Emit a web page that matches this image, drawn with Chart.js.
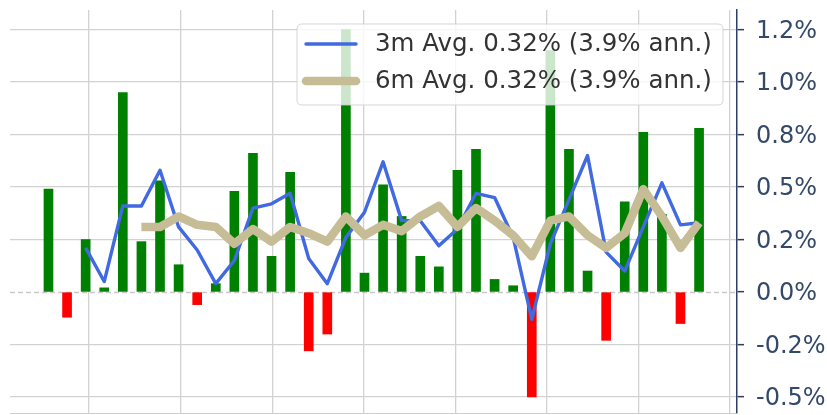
<!DOCTYPE html>
<html>
<head>
<meta charset="utf-8">
<script src="https://cdn.jsdelivr.net/npm/chart.js@4.4.1/dist/chart.umd.min.js"></script>
<style>
  html, body { margin: 0; padding: 0; background: #fff; }
  #wrap { width: 827px; height: 415px; }
</style>
</head>
<body>
<div id="wrap"><canvas id="returns-chart" width="827" height="415"></canvas></div>
<script>
// monthly returns in %, one bar per month
const monthlyReturns = [
  0.49, -0.12, 0.25, 0.02, 0.95, 0.24, 0.53, 0.13, -0.06, 0.04, 0.48, 0.66,
  0.17, 0.57, -0.28, -0.20, 1.25, 0.09, 0.51, 0.36, 0.17, 0.12, 0.58, 0.68,
  0.06, 0.03, -0.50, 1.15, 0.68, 0.10, -0.23, 0.43, 0.76, 0.37, -0.15, 0.78
];
const avg3m = [
  null, null, 0.21, 0.05, 0.41, 0.41, 0.58, 0.31, 0.20, 0.04, 0.15, 0.40,
  0.42, 0.47, 0.16, 0.04, 0.26, 0.38, 0.62, 0.34, 0.34, 0.22, 0.30, 0.47,
  0.45, 0.26, -0.13, 0.23, 0.44, 0.65, 0.19, 0.10, 0.31, 0.52, 0.32, 0.33
];
const avg6m = [
  null, null, null, null, null, 0.31, 0.31, 0.36, 0.32, 0.31, 0.23, 0.30,
  0.24, 0.31, 0.28, 0.24, 0.36, 0.27, 0.32, 0.29, 0.36, 0.41, 0.31, 0.40,
  0.34, 0.27, 0.17, 0.34, 0.36, 0.27, 0.21, 0.28, 0.49, 0.36, 0.21, 0.33
];
const seriesLabels = ["3m Avg. 0.32% (3.9% ann.)", "6m Avg. 0.32% (3.9% ann.)"];
const yTickValues = [-0.5, -0.25, 0, 0.25, 0.5, 0.75, 1.0, 1.25];
const yTickLabels = ["-0.5%", "-0.2%", "0.0%", "0.2%", "0.5%", "0.8%", "1.0%", "1.2%"];

const toPoints = arr => arr.map((v, i) => ({ x: i, y: v }));

// dashed zero line behind the bars
const zeroLine = {
  id: "zeroLine",
  beforeDatasetsDraw(chart) {
    const { ctx, chartArea, scales } = chart;
    const y = Math.round(scales.y.getPixelForValue(0)) + 0.5;
    ctx.save();
    ctx.strokeStyle = "#c8c8c8";
    ctx.lineWidth = 1.3;
    ctx.setLineDash([5, 3]);
    ctx.beginPath();
    ctx.moveTo(chartArea.left, y);
    ctx.lineTo(chartArea.right, y);
    ctx.stroke();
    ctx.restore();
  }
};

// matplotlib-like legend box in the upper right of the plot
const legendBox = {
  id: "legendBox",
  afterDatasetsDraw(chart) {
    const ctx = chart.ctx;
    const lines = chart.data.datasets.filter(d => d.type === "line");
    const x0 = 297, y0 = 24, w = 426, h = 81, r = 5;
    ctx.save();
    ctx.beginPath();
    ctx.moveTo(x0 + r, y0);
    ctx.lineTo(x0 + w - r, y0);
    ctx.quadraticCurveTo(x0 + w, y0, x0 + w, y0 + r);
    ctx.lineTo(x0 + w, y0 + h - r);
    ctx.quadraticCurveTo(x0 + w, y0 + h, x0 + w - r, y0 + h);
    ctx.lineTo(x0 + r, y0 + h);
    ctx.quadraticCurveTo(x0, y0 + h, x0, y0 + h - r);
    ctx.lineTo(x0, y0 + r);
    ctx.quadraticCurveTo(x0, y0, x0 + r, y0);
    ctx.closePath();
    ctx.fillStyle = "rgba(255,255,255,0.8)";
    ctx.fill();
    ctx.strokeStyle = "rgba(204,204,204,0.8)";
    ctx.lineWidth = 1;
    ctx.stroke();

    ctx.font = "24.5px 'DejaVu Sans'";
    ctx.textBaseline = "middle";
    ctx.fillStyle = "#333333";
    lines.forEach((ds, i) => {
      const cy = 44 + i * 37;
      ctx.beginPath();
      ctx.strokeStyle = ds.borderColor;
      ctx.lineWidth = ds.borderWidth;
      ctx.lineCap = "round";
      ctx.moveTo(306, cy);
      ctx.lineTo(356, cy);
      ctx.stroke();
      ctx.fillText(ds.label, 375, cy + 1);
    });
    ctx.restore();
  }
};

new Chart(document.querySelector("#returns-chart").getContext("2d"), {
  data: {
    datasets: [
      {
        type: "line",
        label: seriesLabels[0],
        data: toPoints(avg3m),
        borderColor: "#4169e1",
        borderWidth: 3.4,
        pointRadius: 0,
        tension: 0,
        borderJoinStyle: "round",
        order: 1,
      },
      {
        type: "line",
        label: seriesLabels[1],
        data: toPoints(avg6m),
        borderColor: "#c6bd96",
        borderWidth: 8.5,
        pointRadius: 0,
        tension: 0,
        borderJoinStyle: "round",
        order: 0,
      },
      {
        type: "bar",
        label: "Monthly",
        data: toPoints(monthlyReturns),
        backgroundColor: ctx => (ctx.raw && ctx.raw.y < 0 ? "#ff0000" : "#008000"),
        barThickness: 9,
        order: 2,
      },
    ],
  },
  options: {
    responsive: false,
    animation: false,
    devicePixelRatio: 1,
    layout: { padding: { left: 10, top: 10, right: 0, bottom: 2 } },
    plugins: {
      legend: { display: false },
      tooltip: { enabled: false },
    },
    scales: {
      x: {
        type: "linear",
        offset: false,
        min: -2.07,
        max: 37.04,
        afterBuildTicks: scale => {
          const t = [];
          for (let v = 2.18; v < 37; v += 4.927) t.push({ value: v });
          scale.ticks = t;
        },
        afterFit: scale => {
          scale.height = 0;
          scale.paddingLeft = 0;
          scale.paddingRight = 0;
        },
        ticks: { display: false },
        grid: { offset: false, color: "#d2d2d2", lineWidth: 1.3, drawTicks: false },
        border: { display: true, color: "#c5d0de", width: 1 },
      },
      y: {
        position: "right",
        min: -0.576,
        max: 1.343,
        afterBuildTicks: scale => {
          scale.ticks = yTickValues.map(v => ({ value: v }));
        },
        afterFit: scale => {
          scale.width = 90;
          scale.paddingTop = 0;
          scale.paddingBottom = 0;
        },
        ticks: {
          padding: 12,
          labelOffset: 2,
          color: "#34496a",
          font: { family: "'DejaVu Sans'", size: 24 },
          callback: (v, i) => yTickLabels[i],
        },
        grid: {
          color: ctx => (ctx.tick && ctx.tick.value === 0 ? "rgba(0,0,0,0)" : "#d2d2d2"),
          lineWidth: 1.3,
          tickColor: "#2c3e63",
          tickLength: 7,
          tickWidth: 1.5,
        },
        border: { display: true, color: "#2c3e63", width: 1.5 },
      },
    },
  },
  plugins: [zeroLine, legendBox],
});
</script>
</body>
</html>
